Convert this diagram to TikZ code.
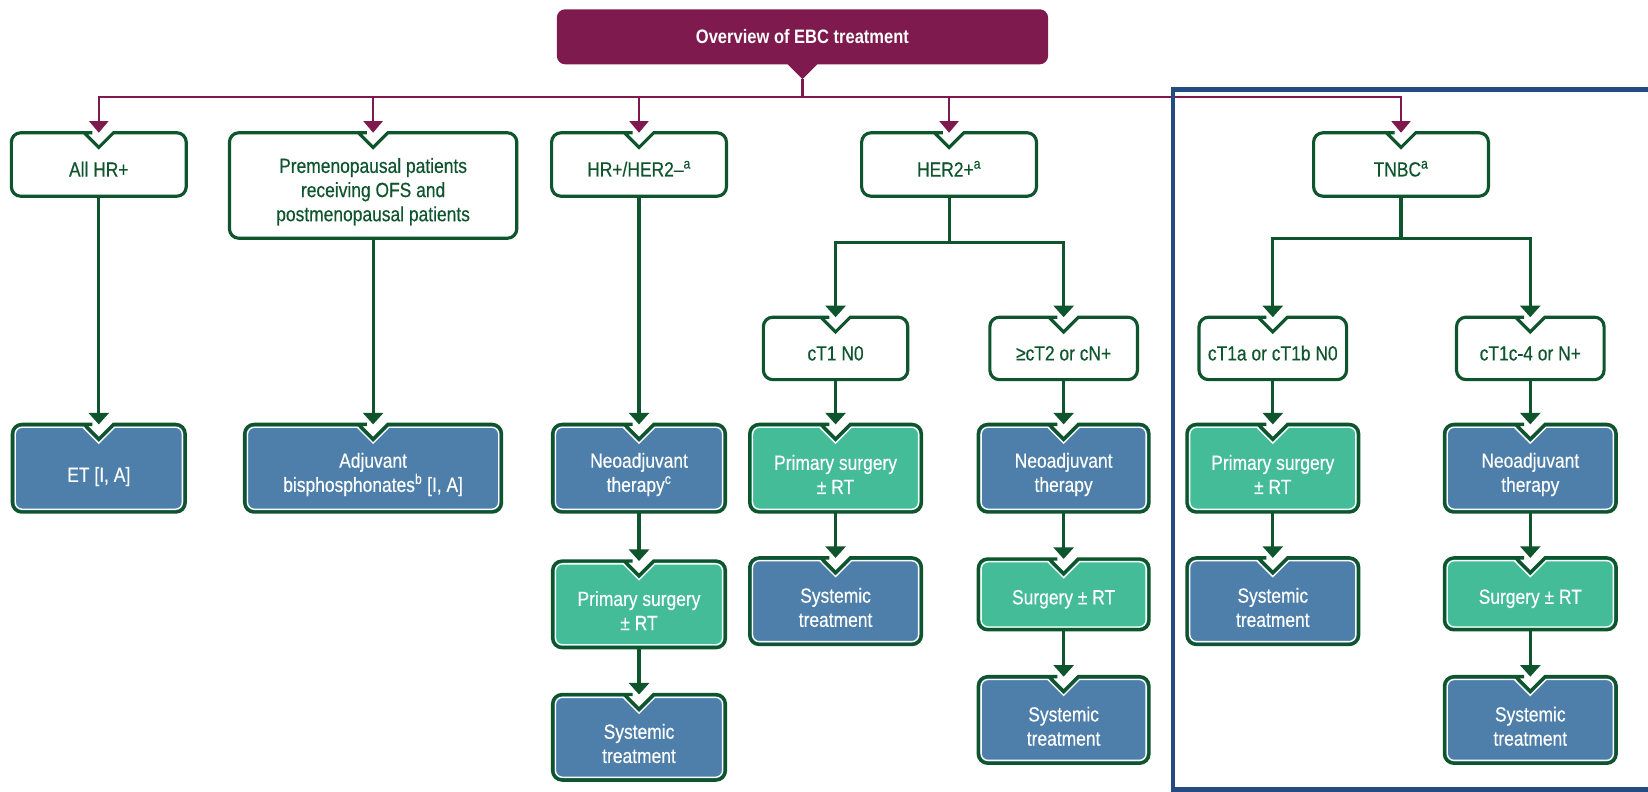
\documentclass[tikz,border=0pt]{standalone}
\usepackage{fontspec}
\setmainfont{Liberation Sans}[FakeStretch=0.85]
\newfontfamily\bodyf{Liberation Sans}[FakeStretch=0.85,FakeBold=0.35]
\usetikzlibrary{arrows.meta,backgrounds}
\definecolor{maroon}{RGB}{126,26,77}
\definecolor{dkg}{RGB}{14,84,44}
\definecolor{bfill}{RGB}{78,127,170}
\definecolor{tfill}{RGB}{67,188,151}
\definecolor{framec}{RGB}{37,76,130}
% outer notched outline
\newcommand\outerp[1]{(#1.west) [rounded corners=9pt] -- (#1.north west) -- ([xshift=-15pt]#1.north) [sharp corners] -- ([xshift=-14pt]#1.north) -- ([yshift=-14pt]#1.north) -- ([xshift=14pt]#1.north) -- ([xshift=15pt]#1.north) [rounded corners=9pt] -- (#1.north east) -- (#1.south east) -- (#1.south west) -- cycle}
% inner (inset) outline
\newcommand\innerp[1]{([xshift=2.7pt]#1.west) [rounded corners=6.5pt] -- ([xshift=2.7pt,yshift=-2.7pt]#1.north west) -- ([xshift=-16pt,yshift=-2.7pt]#1.north) [sharp corners] -- ([xshift=-15.1pt,yshift=-2.7pt]#1.north) -- ([yshift=-17.8pt]#1.north) -- ([xshift=15.1pt,yshift=-2.7pt]#1.north) -- ([xshift=16pt,yshift=-2.7pt]#1.north) [rounded corners=6.5pt] -- ([xshift=-2.7pt,yshift=-2.7pt]#1.north east) -- ([xshift=-2.7pt,yshift=2.7pt]#1.south east) -- ([xshift=2.7pt,yshift=2.7pt]#1.south west) -- cycle}
\newcommand\wbox[1]{\fill[white] \outerp{#1}; \draw[dkg,line width=3pt] \outerp{#1};}
\newcommand\cbox[2]{\fill[#2] \outerp{#1}; \draw[white,line width=1.3pt] \innerp{#1}; \draw[dkg,line width=3.2pt] \outerp{#1};}
\newcommand\shA{\rule{0pt}{26pt}}
\newcommand\shB{\rule{0pt}{23pt}}
\newcommand\shC{\rule{0pt}{30pt}}
\tikzset{
  bx/.style={rectangle, inner sep=0pt, align=center, font=\bodyf\fontsize{19.5}{23}\selectfont},
  wt/.style={bx, text=dkg},
  cl/.style={bx, text=white},
  garr/.style={dkg, line width=3pt, -{Triangle[width=19pt,length=11pt]}},
  gline/.style={dkg, line width=3pt},
  marr/.style={maroon, line width=2pt, -{Triangle[width=18pt,length=11pt]}},
  mline/.style={maroon, line width=2pt},
}
\begin{document}
\begin{tikzpicture}[x=1pt,y=-1pt]
\useasboundingbox (0,0) rectangle (1568,753);
\clip (0,0) rectangle (1568,753);
% title
\node[bx, text=white, font=\bfseries\fontsize{18.5}{22}\selectfont, minimum width=467pt, minimum height=52pt] (title) at (763.5,35) {Overview of EBC treatment};
% top row
\node[wt, minimum width=166pt, minimum height=60pt] (allhr) at (94,156.5) {\shB All HR+};
\node[wt, minimum width=273pt, minimum height=100pt] (preme) at (355,176.5) {\shA Premenopausal patients\\receiving OFS and\\postmenopausal patients};
\node[wt, minimum width=166pt, minimum height=60pt] (hrher) at (608,156.5) {\shB HR+/HER2–\textsuperscript{a}};
\node[wt, minimum width=166pt, minimum height=60pt] (her2) at (903,156.5) {\shB HER2+\textsuperscript{a}};
\node[wt, minimum width=166pt, minimum height=60pt] (tnbc) at (1333,156.5) {\shB TNBC\textsuperscript{a}};
% second row
\node[wt, minimum width=137pt, minimum height=59pt] (ct1) at (795,331.5) {\shB cT1 N0};
\node[wt, minimum width=140pt, minimum height=59pt] (ct2) at (1012,331.5) {\shB ≥cT2 or cN+};
\node[wt, minimum width=140pt, minimum height=59pt] (ct1a) at (1211,331.5) {\shB cT1a or cT1b N0};
\node[wt, minimum width=140pt, minimum height=59pt] (ct1c) at (1456,331.5) {\shB cT1c-4 or N+};
% third row
\node[cl, minimum width=164pt, minimum height=83pt] (et) at (94,445.5) {\shC ET [I, A]};
\node[cl, minimum width=244pt, minimum height=83pt] (adj) at (355,445.5) {\shA Adjuvant\\bisphosphonates\textsuperscript{b} [I, A]};
\node[cl, minimum width=164pt, minimum height=83pt] (neo1) at (608,445.5) {\shA Neoadjuvant\\therapy\textsuperscript{c}};
\node[cl, minimum width=163pt, minimum height=83pt] (ps1) at (795,445.5) {\shA Primary surgery\\± RT};
\node[cl, minimum width=162pt, minimum height=83pt] (neo2) at (1012,445.5) {\shA Neoadjuvant\\therapy};
\node[cl, minimum width=163pt, minimum height=83pt] (ps2) at (1211,445.5) {\shA Primary surgery\\± RT};
\node[cl, minimum width=163pt, minimum height=83pt] (neo3) at (1456,445.5) {\shA Neoadjuvant\\therapy};
% fourth row
\node[cl, minimum width=164pt, minimum height=82pt] (ps0) at (608,575) {\shA Primary surgery\\± RT};
\node[cl, minimum width=163pt, minimum height=82pt] (sys1) at (795,572) {\shA Systemic\\treatment};
\node[cl, minimum width=162pt, minimum height=67pt] (srg2) at (1012,565.5) {\shB Surgery ± RT};
\node[cl, minimum width=163pt, minimum height=82pt] (sys2) at (1211,572) {\shA Systemic\\treatment};
\node[cl, minimum width=163pt, minimum height=68pt] (srg3) at (1456,565) {\shB Surgery ± RT};
% fifth row
\node[cl, minimum width=164pt, minimum height=81pt] (sys0) at (608,701.5) {\shA Systemic\\treatment};
\node[cl, minimum width=162pt, minimum height=82pt] (sys3) at (1012,685) {\shA Systemic\\treatment};
\node[cl, minimum width=163pt, minimum height=82pt] (sys4) at (1456,685) {\shA Systemic\\treatment};
% box shapes
\begin{pgfonlayer}{background}
\fill[white] (0,0) rectangle (1568,753);
\fill[maroon] (title.west) [rounded corners=8pt] -- (title.north west) -- (title.north east) -- (title.south east) -- ([xshift=15pt]title.south) [sharp corners] -- ([xshift=14pt]title.south) -- ([yshift=-14pt]title.south) -- ([xshift=-14pt]title.south) -- ([xshift=-15pt]title.south) [rounded corners=8pt] -- (title.south west) -- cycle;
\foreach \n in {allhr,preme,hrher,her2,tnbc,ct1,ct2,ct1a,ct1c} {\wbox{\n}}
\foreach \n/\c in {et/bfill,adj/bfill,neo1/bfill,ps1/tfill,neo2/bfill,ps2/tfill,neo3/bfill,ps0/tfill,sys1/bfill,srg2/tfill,sys2/bfill,srg3/tfill,sys0/bfill,sys3/bfill,sys4/bfill} {\cbox{\n}{\c}}
\end{pgfonlayer}
% maroon connectors
\coordinate (tip) at ([yshift=-14pt]title.south);
\coordinate (bus) at (763.5,92);
\draw[mline] (tip) -- (bus);
\foreach \n in {allhr,preme,hrher,her2,tnbc} {\draw[marr] (bus) -| (\n.north);}
% green connectors
\draw[garr] (allhr.south) -- (et.north);
\draw[garr] (preme.south) -- (adj.north);
\draw[garr] (hrher.south) -- (neo1.north);
\draw[garr] (neo1.south) -- (ps0.north);
\draw[garr] (ps0.south) -- (sys0.north);
\coordinate (hs) at (903,231);
\draw[gline] (her2.south) -- (hs);
\draw[garr] (hs) -| (ct1.north);
\draw[garr] (hs) -| (ct2.north);
\draw[garr] (ct1.south) -- (ps1.north);
\draw[garr] (ps1.south) -- (sys1.north);
\draw[garr] (ct2.south) -- (neo2.north);
\draw[garr] (neo2.south) -- (srg2.north);
\draw[garr] (srg2.south) -- (sys3.north);
\coordinate (ts) at (1333,227);
\draw[gline] (tnbc.south) -- (ts);
\draw[garr] (ts) -| (ct1a.north);
\draw[garr] (ts) -| (ct1c.north);
\draw[garr] (ct1a.south) -- (ps2.north);
\draw[garr] (ps2.south) -- (sys2.north);
\draw[garr] (ct1c.south) -- (neo3.north);
\draw[garr] (neo3.south) -- (srg3.north);
\draw[garr] (srg3.south) -- (sys4.north);
% blue frame
\draw[framec, line width=4.5pt] (1116,85) rectangle (1600,751);
\end{tikzpicture}
\end{document}
